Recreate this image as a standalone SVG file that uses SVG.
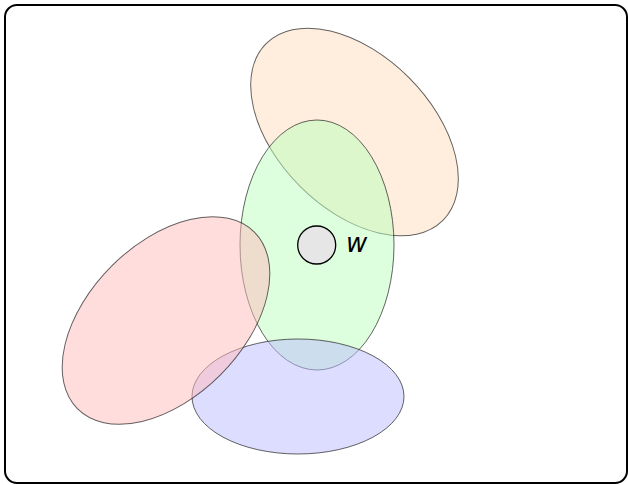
<svg xmlns="http://www.w3.org/2000/svg" width="628" height="485" viewBox="0 0 628 485">
<style>
.set{stroke:#222;stroke-opacity:0.7;stroke-width:1;fill-opacity:0.5}
.lbl{font-family:"DejaVu Sans",sans-serif;font-style:italic;font-weight:normal;font-size:26px;fill:#000}
</style>
<rect x="5" y="5" width="622" height="478" rx="12" ry="12" fill="#fff" stroke="#000" stroke-width="2"/>
<g id="orange"><ellipse class="set" cx="354.5" cy="132" rx="77" ry="125" transform="rotate(-45 354.5 132)" fill="#ffddbb"/></g>
<g id="green"><ellipse class="set" cx="317" cy="245" rx="77" ry="125" fill="#bbffbb"/></g>
<g id="blue"><ellipse class="set" cx="298" cy="396.5" rx="106" ry="57.5" fill="#bbbbff"/></g>
<g id="red"><ellipse class="set" cx="166" cy="320.5" rx="77" ry="125" transform="rotate(45 166 320.5)" fill="#ffbbbb"/></g>
<g id="w"><circle cx="316.7" cy="245" r="19" fill="#e6e6e6" stroke="#000" stroke-width="1.3"/><text class="lbl" x="346" y="252">w</text></g>
<g id="connectors"/>
</svg>
